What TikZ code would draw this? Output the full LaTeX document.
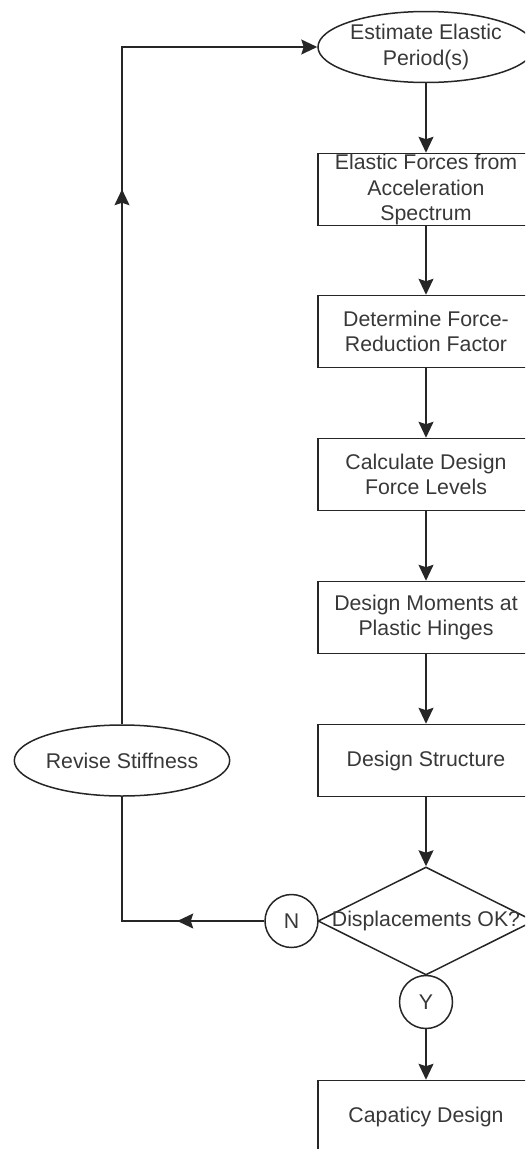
\documentclass[tikz,border=0pt]{standalone}
\usepackage{fontspec}
\setmainfont{Liberation Sans}
\usetikzlibrary{shapes.geometric, arrows.meta, decorations.markings}

\begin{document}
\begin{tikzpicture}[x=1pt, y=-1pt,
  every node/.style={font=\fontsize{21.3}{25.5}\selectfont, text=black!78, inner sep=0pt},
  flowline/.style={line width=1.5pt, draw=black!85},
  tip/.style={-{Stealth[length=16pt, width=15pt, inset=2.5pt]}},
  procbox/.style={draw=black!85, line width=1.5pt, minimum width=216pt, minimum height=72pt, align=center},
  startoval/.style={ellipse, draw=black!85, line width=1.5pt, minimum width=216pt, minimum height=71pt, align=center},
  decision/.style={diamond, draw=black!85, line width=1.5pt, minimum width=216pt, minimum height=108pt},
  answer/.style={circle, draw=black!85, line width=1.5pt, minimum size=53pt},
  midtip/.style={postaction={decorate}, decoration={markings,
      mark=at position #1 with {\arrow{Stealth[length=16pt, width=15pt, inset=2.5pt]}}}}
]
\clip (0,0) rectangle (525,1149);
\useasboundingbox (0,0) rectangle (525,1149);

% main column of steps
\node[startoval] (est) at (426,47) {Estimate Elastic\\Period(s)};
\node[procbox] (elastic) at (426,189.5) {Elastic Forces from\\Acceleration\\Spectrum};
\node[procbox] (reduce) at (426,331.5) {Determine Force-\\Reduction Factor};
\node[procbox] (levels) at (426,474.5) {Calculate Design\\Force Levels};
\node[procbox] (moments) at (426,617.5) {Design Moments at\\Plastic Hinges};
\node[procbox] (struct) at (426,760.5) {Design Structure};
\node[decision] (check) at (426,921) {};
\node (checktext) at (check.center) {Displacements OK?};
\node[answer] (yes) at (426,1002) {Y};
\node[answer] (no) at (291.5,921) {N};
\node[procbox] (capacity) at (426,1116.5) {Capaticy Design};

% loop back
\node[startoval, minimum width=213pt] (revise) at (122,760.5) {Revise Stiffness};
\coordinate (loopTop) at (122,47);
\coordinate (loopBottom) at (122,921);

% connectors
\draw[flowline, tip] (est) -- (elastic);
\draw[flowline, tip] (elastic) -- (reduce);
\draw[flowline, tip] (reduce) -- (levels);
\draw[flowline, tip] (levels) -- (moments);
\draw[flowline, tip] (moments) -- (struct);
\draw[flowline, tip] (struct) -- (check.north);
\draw[flowline] (check.south) -- (yes);
\draw[flowline, tip] (yes) -- (capacity);
\draw[flowline] (check.west) -- (no);
\draw[flowline, midtip=87pt] (no.west) -- (loopBottom) -- (revise.south);
\draw[flowline, midtip=535pt, tip] (revise.north) -- (loopTop) -- (est.west);
\end{tikzpicture}
\end{document}
